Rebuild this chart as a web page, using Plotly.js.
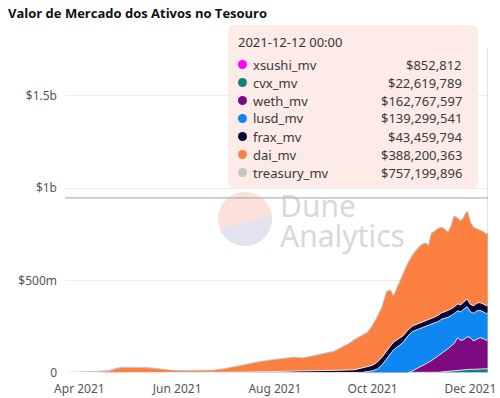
<!DOCTYPE html>
<html>
<head>
<meta charset="utf-8">
<script src="https://cdn.plot.ly/plotly-3.0.1.min.js"></script>
<style>html,body{margin:0;padding:0;background:#fff}#chart{width:500px;height:398px}</style>
</head>
<body>
<div id="chart"></div>
<script>
// ---- data (values in millions of USD) ----
const dates = ["2021-03-23","2021-03-30","2021-04-06","2021-04-13","2021-04-20","2021-04-24","2021-04-28","2021-05-03","2021-05-08","2021-05-13",
"2021-05-18","2021-05-23","2021-05-28","2021-06-03","2021-06-10","2021-06-17","2021-06-24","2021-07-01","2021-07-08","2021-07-15",
"2021-07-22","2021-07-29","2021-08-05","2021-08-12","2021-08-19","2021-08-26","2021-09-02","2021-09-07","2021-09-12","2021-09-16",
"2021-09-20","2021-09-24","2021-09-28","2021-10-01","2021-10-04","2021-10-07","2021-10-10","2021-10-12","2021-10-14","2021-10-17",
"2021-10-20","2021-10-23","2021-10-26","2021-10-29","2021-11-01","2021-11-03","2021-11-05","2021-11-07","2021-11-09","2021-11-11",
"2021-11-13","2021-11-15","2021-11-17","2021-11-19","2021-11-21","2021-11-23","2021-11-25","2021-11-27","2021-11-29","2021-12-01",
"2021-12-03","2021-12-05","2021-12-07","2021-12-09","2021-12-11","2021-12-12"];

const xsushi_mv = [0,0,0,0,0,0,0,0,0,0, 0,0,0,0,0,0,0,0,0,0, 0,0,0,0,0,0,0,0,0,0, 0,0,0,0,0,0,0,0,0,0,
  0,0,0,0,0.3,0.4,0.5,0.6,0.7,0.8, 0.9,0.9,1.0,1.0,1.1,1.1,1.0,1.0,1.0,1.1, 0.9,0.9,0.9,0.9,0.85,0.852812];
const cvx_mv = [0,0,0,0,0,0,0,0,0,0, 0,0,0,0,0,0,0,0,0,0, 0,0,0,0,0,0,0,0,0,0, 0,0,0,0,0,0,0,0,0,0,
  0,0,0,0,0,0,0,1,2,3, 5,7,9,11,13,14,15,16,18,19, 19,20,21,22,22,22.619789];
const weth_mv = [0,0,0,0,0,0,0,0,0,0, 0,0,0,0,0,0,0,0,0,0, 0,0,0,0,0,0,0,0,0,0, 0,0,0,0,0,0,0,0,0,0,
  0,0,12,25,38,48,58,67,78,89, 100,108,121,134,147,176,160,164,177,171, 153,162,169,163,153,162.767597];
const lusd_mv = [0,0,0,0,0,0,0,0,0,0, 0,0,0,0,0,0,0,0,0,0, 0,0,0,0,0,0,0,0,0,0,
  0,3,8,12,22,45,80,100,125,145, 165,200,213,210,207,202,197,194,190,186, 185,180,170,165,160,145,155,165,163,140, 150,153,148,145,145,139.299541];
const frax_mv = [0,0,0,0,0,0,0,0,0,0, 0,0,0,0,0,0,0,2,4,5, 6,7,8,8,9,10,11,12,14,16,
  18,22,27,30,38,42,45,45,42,40, 36,32,30,30,30,30,31,32,33,34, 35,35,36,36,37,37,38,40,41,40, 41,42,42,43,43,43.459794];
const dai_mv = [0,0,0,0,8,22,27,28,27,26, 22,15,11,10,10,11,13,20,31,40, 52,61,68,74,71,82,94,103,124,139,
  162,175,183,213,240,268,315,300,245,285, 329,358,380,405,420,420,399,461,462,468, 460,445,422,444,488,463,450,455,473,440, 422,401,392,389,387,388.200363];
const treasury_mv = [0.5,2,4,7,12,23,28,29,28,27, 23,16,12,11,11,12,14,22,35,45, 58,68,76,82,80,92,105,115,138,155,
  180,200,218,255,300,355,440,445,412,470, 530,590,635,670,695,700,685,755,765,780, 785,775,758,790,845,835,818,840,872,810, 785,778,772,762,750,757.199896];

const seriesNames = ["xsushi_mv","cvx_mv","weth_mv","lusd_mv","frax_mv","dai_mv","treasury_mv"];
const seriesData = [xsushi_mv,cvx_mv,weth_mv,lusd_mv,frax_mv,dai_mv,treasury_mv];
const colors = ["#ff00ff","#157f79","#7d0a80","#0f87f2","#0b0838","#fb8042","#c4c4c4"];
const yTickVals = [0, 5e8, 1e9, 1.5e9];
const yTickText = ["0", "$500m", "$1b", "$1.5b"];
const hoverDate = "2021-12-12 00:00";
const crosshairValue = 9.47e8;
const titleText = "Valor de Mercado dos Ativos no Tesouro";

// ---- geometry helpers ----
const W = 500, H = 398;
const M = {l: 65, r: 12, t: 48, b: 25};
const pw = W - M.l - M.r, ph = H - M.t - M.b;
const px = p => (p - M.l) / pw;
const py = p => (H - M.b - p) / ph;

const traces = [];
// treasury behind (not stacked)
traces.push({
  x: dates, y: treasury_mv.map(v => v * 1e6), type: 'scatter', mode: 'lines',
  name: 'treasury_mv', fill: 'tozeroy', fillcolor: 'rgba(196,196,196,0.6)',
  line: {color: colors[6], width: 2}, hoverinfo: 'skip'
});
for (let i = 0; i < 6; i++) {
  traces.push({
    x: dates, y: seriesData[i].map(v => v * 1e6), type: 'scatter', mode: 'lines',
    name: seriesNames[i], stackgroup: 'one', fillcolor: colors[i],
    line: {color: i === 5 ? colors[5] : '#ffffff', width: i === 5 ? 0 : 0.8},
    hoverinfo: 'skip'
  });
}

const shapes = [];
const annotations = [];

// crosshair
shapes.push({type: 'line', xref: 'x', yref: 'paper', x0: dates[dates.length-1], x1: dates[dates.length-1], y0: 0, y1: 1,
  line: {color: '#c8c8c8', width: 1}, layer: 'above'});
shapes.push({type: 'line', xref: 'paper', yref: 'y', x0: 0, x1: 1, y0: crosshairValue, y1: crosshairValue,
  line: {color: '#a0a0a0', width: 1}, layer: 'above'});

// watermark pie
function arcPath(cx, cy, r, a0, a1, n) {
  let d = '';
  for (let k = 0; k <= n; k++) {
    const a = (a0 + (a1 - a0) * k / n) * Math.PI / 180;
    const X = px(cx + r * Math.cos(a)), Y = py(cy - r * Math.sin(a));
    d += (k === 0 ? 'M' : 'L') + X.toFixed(5) + ',' + Y.toFixed(5);
  }
  return d + 'Z';
}
shapes.push({type: 'path', xref: 'paper', yref: 'paper', path: arcPath(245, 219, 27, 8, 202, 48),
  fillcolor: 'rgba(248,200,188,0.55)', line: {width: 0}, layer: 'below'});
shapes.push({type: 'path', xref: 'paper', yref: 'paper', path: arcPath(245, 219, 27, 202, 368, 48),
  fillcolor: 'rgba(206,206,232,0.6)', line: {width: 0}, layer: 'below'});
annotations.push({xref: 'paper', yref: 'paper', x: px(278), y: py(205), xanchor: 'left', yanchor: 'middle',
  text: 'Dune', showarrow: false, font: {family: 'Noto Sans', size: 30, color: 'rgba(190,190,190,0.6)'}});
annotations.push({xref: 'paper', yref: 'paper', x: px(278), y: py(235), xanchor: 'left', yanchor: 'middle',
  text: 'Analytics', showarrow: false, font: {family: 'Noto Sans', size: 30, color: 'rgba(190,190,190,0.6)'}});

// tooltip box
function roundRect(x0, y0, x1, y1, r) {
  const X = v => px(v).toFixed(5), Y = v => py(v).toFixed(5);
  return 'M' + X(x0 + r) + ',' + Y(y0) + ' L' + X(x1 - r) + ',' + Y(y0) +
    ' Q' + X(x1) + ',' + Y(y0) + ' ' + X(x1) + ',' + Y(y0 + r) +
    ' L' + X(x1) + ',' + Y(y1 - r) + ' Q' + X(x1) + ',' + Y(y1) + ' ' + X(x1 - r) + ',' + Y(y1) +
    ' L' + X(x0 + r) + ',' + Y(y1) + ' Q' + X(x0) + ',' + Y(y1) + ' ' + X(x0) + ',' + Y(y1 - r) +
    ' L' + X(x0) + ',' + Y(y0 + r) + ' Q' + X(x0) + ',' + Y(y0) + ' ' + X(x0 + r) + ',' + Y(y0) + ' Z';
}
shapes.push({type: 'path', xref: 'paper', yref: 'paper', path: roundRect(228, 25, 478, 188, 6),
  fillcolor: 'rgba(253,233,229,0.93)', line: {width: 0}, layer: 'above'});
annotations.push({xref: 'paper', yref: 'paper', x: px(236), y: py(42), xanchor: 'left', yanchor: 'middle',
  text: hoverDate, showarrow: false, font: {family: 'Noto Sans', size: 13, color: '#333'}});
for (let i = 0; i < seriesNames.length; i++) {
  const rowY = 64.5 + i * 18;
  const arr = seriesData[i];
  const val = Math.round(arr[arr.length - 1] * 1e6);
  shapes.push({type: 'circle', xref: 'paper', yref: 'paper', x0: px(238), x1: px(247), y0: py(rowY - 4.5), y1: py(rowY + 4.5),
    fillcolor: colors[i], line: {width: 0}, layer: 'above'});
  annotations.push({xref: 'paper', yref: 'paper', x: px(251), y: py(rowY), xanchor: 'left', yanchor: 'middle',
    text: seriesNames[i], showarrow: false, font: {family: 'Noto Sans', size: 13, color: '#3a3a3a'}});
  annotations.push({xref: 'paper', yref: 'paper', x: px(464), y: py(rowY), xanchor: 'right', yanchor: 'middle',
    text: '$' + val.toLocaleString('en-US'), showarrow: false, font: {family: 'Noto Sans', size: 13, color: '#3a3a3a'}});
}

const layout = {
  width: W, height: H,
  margin: M,
  paper_bgcolor: '#fff', plot_bgcolor: '#fff',
  showlegend: false,
  hovermode: false,
  title: {text: '<b>' + titleText + '</b>', x: 8 / W, xanchor: 'left', xref: 'container', y: 1 - 13 / H, yanchor: 'middle', yref: 'container',
    font: {family: 'Open Sans', size: 13, color: '#111'}},
  xaxis: {
    type: 'date', range: ['2021-03-23', '2021-12-12'],
    tick0: '2021-04-01', dtick: 'M2', tickformat: '%b %Y',
    showgrid: false, zeroline: false, showline: false, ticks: '',
    tickfont: {family: 'Noto Sans', size: 12, color: '#555'}, ticklabelstandoff: 7
  },
  yaxis: {
    range: [0, 1.758e9], tickvals: yTickVals, ticktext: yTickText,
    showgrid: true, gridcolor: '#ededed', gridwidth: 1, zeroline: false, showline: false, ticks: '',
    tickfont: {family: 'Noto Sans', size: 12, color: '#555'}, ticklabelstandoff: 7
  },
  shapes: shapes,
  annotations: annotations
};

Plotly.newPlot('chart', traces, layout, {staticPlot: true, displayModeBar: false});
</script>
</body>
</html>
